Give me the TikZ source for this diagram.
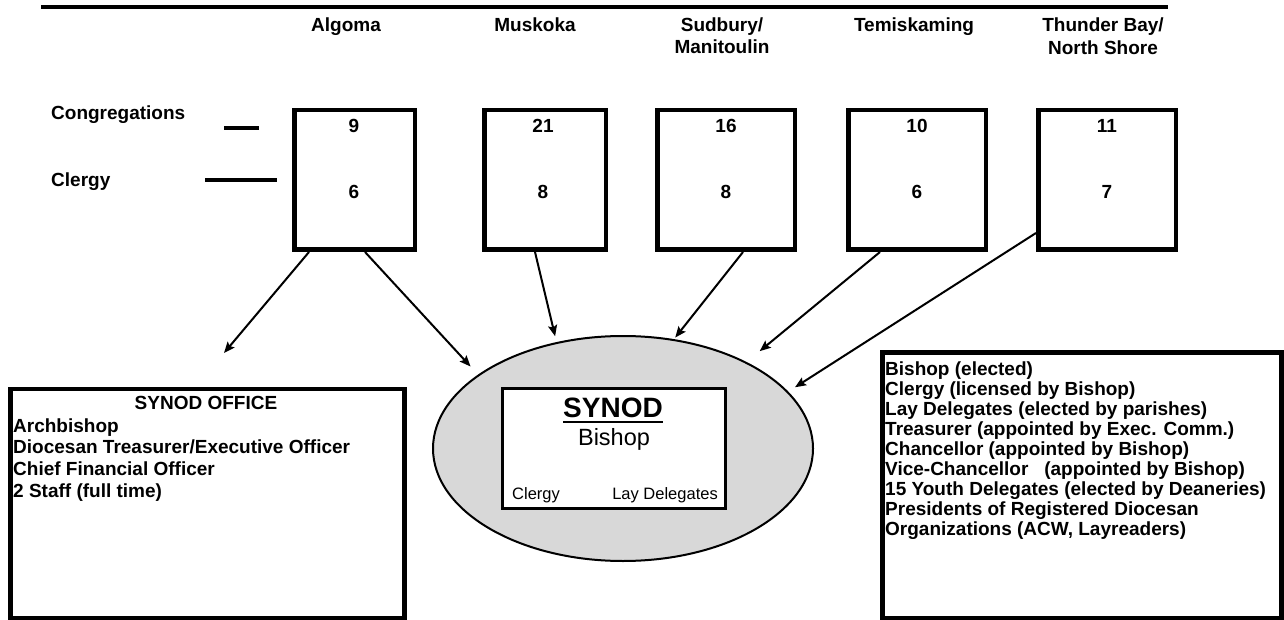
\documentclass[tikz,border=0pt]{standalone}
\usepackage{fontspec}
\setmainfont{Liberation Sans}
\newfontfamily\plainsans{Liberation Sans}
\usetikzlibrary{arrows.meta,shapes.geometric}
\definecolor{ellgray}{RGB}{216,216,216}
\begin{document}
\begin{tikzpicture}[x=1pt,y=-1pt,
  lbl/.style={font=\bfseries\fontsize{19}{20}\selectfont, inner sep=0pt},
  dbox/.style={draw, line width=4.5pt, minimum height=139.5pt, inner sep=0pt},
  tbox/.style={draw, line width=4.5pt, inner sep=0pt},
  thick rule/.style={line width=4.5pt},
  arr/.style={line width=2pt, -{Stealth[length=11pt,width=9pt,inset=2pt]}},
  small/.style={font=\plainsans\fontsize{16.5}{18}\selectfont, inner sep=0pt}
]
\useasboundingbox (0,0) rectangle (1284,620);
% top rule
\draw[thick rule] (41,7) -- (1168,7);
% column headings
\node[lbl, anchor=base] (lalg) at (346,32) {Algoma};
\node[lbl, anchor=base] (lmus) at (535,32) {Muskoka};
\node[lbl, anchor=base] (lsud1) at (722,32) {Sudbury/};
\node[lbl, anchor=base] (lsud2) at (722,54) {Manitoulin};
\node[lbl, anchor=base] (ltem) at (914,32) {Temiskaming};
\node[lbl, anchor=base] (lthu1) at (1103,32) {Thunder Bay/};
\node[lbl, anchor=base] (lthu2) at (1103,55) {North Shore};
% row headings
\node[lbl, anchor=base west] (lcong) at (51,120) {Congregations};
\node[lbl, anchor=base west] (lcler) at (51,187) {Clergy};
\draw[thick rule] (224,128) -- (259,128);
\draw[thick rule] (205,180) -- (277,180);
% deanery boxes
\node[dbox, minimum width=120.5pt] (alg) at (354.5,180) {};
\node[dbox, minimum width=121.5pt] (mus) at (545,180) {};
\node[dbox, minimum width=137.5pt] (sud) at (726,180) {};
\node[dbox, minimum width=137.5pt] (tem) at (917,180) {};
\node[dbox, minimum width=137.5pt] (thu) at (1107,180) {};
\node[lbl, anchor=base] (algc) at (354,133) {9};
\node[lbl, anchor=base] (algp) at (354,199) {6};
\node[lbl, anchor=base] (musc) at (543,133) {21};
\node[lbl, anchor=base] (musp) at (543,199) {8};
\node[lbl, anchor=base] (sudc) at (726,133) {16};
\node[lbl, anchor=base] (sudp) at (726,199) {8};
\node[lbl, anchor=base] (temc) at (917,133) {10};
\node[lbl, anchor=base] (temp) at (917,199) {6};
\node[lbl, anchor=base] (thuc) at (1107,133) {11};
\node[lbl, anchor=base] (thup) at (1107,199) {7};
% synod ellipse
\node[ellipse, draw, line width=2pt, fill=ellgray, minimum width=380pt, minimum height=225pt, inner sep=0pt] (syn) at (623,448.5) {};
\node[draw, line width=3pt, fill=white, minimum width=223pt, minimum height=120pt, inner sep=0pt] (synbox) at (614,448.5) {};
\node[font=\plainsans\bfseries\fontsize{28}{30}\selectfont, inner sep=0pt, anchor=base] (synt) at (613,417) {SYNOD};
\draw[line width=2pt] ([yshift=-5pt]synt.base west) -- ([yshift=-5pt]synt.base east);
\node[font=\plainsans\fontsize{23.5}{26}\selectfont, inner sep=0pt, anchor=base] (bish) at (614,445) {Bishop};
\node[small, anchor=base west] (sclergy) at (512,499) {Clergy};
\node[small, anchor=base east] (slay) at (718,499) {Lay Delegates};
% synod office
\node[tbox, minimum width=394pt, minimum height=228.75pt] (off) at (207.5,503.6) {};
\node[lbl, anchor=base] (offt) at (206,409) {SYNOD OFFICE};
\foreach \t [count=\i] in {Archbishop, Diocesan Treasurer/Executive Officer, Chief Financial Officer, 2 Staff (full time)}
  \node[lbl, anchor=base west] (off\i) at (13,{432+21.7*(\i-1)}) {\t};
% membership box
\node[tbox, minimum width=399pt, minimum height=266pt] (rbox) at (1082,485.5) {};
\foreach \t [count=\i] in {Bishop (elected), Clergy (licensed by Bishop), Lay Delegates (elected by parishes), Treasurer (appointed by Exec. Comm.), Chancellor (appointed by Bishop), {Vice-Chancellor\ \ \ (appointed by Bishop)}, 15 Youth Delegates (elected by Deaneries), Presidents of Registered Diocesan, {Organizations (ACW, Layreaders)}}
  \node[lbl, anchor=base west] (r\i) at (885,{375+20*(\i-1)}) {\t};
% arrows
\coordinate (offtip) at (224,353);
\draw[arr] ([xshift=-45.5pt]alg.south) -- (offtip);
\draw[arr, shorten >=11pt] ([xshift=10.5pt]alg.south) -- (syn.153.3);
\draw[arr, shorten >=6pt] ([xshift=-10pt]mus.south) -- (syn.122.1);
\draw[arr, shorten >=2pt] ([xshift=17pt]sud.south) -- (syn.65.8);
\draw[arr, shorten >=17pt] ([xshift=-37pt]tem.south) -- (syn.35.2);
\draw[arr, shorten >=8pt] ([yshift=-53pt]thu.west) -- (syn.19.4);
\end{tikzpicture}
\end{document}
